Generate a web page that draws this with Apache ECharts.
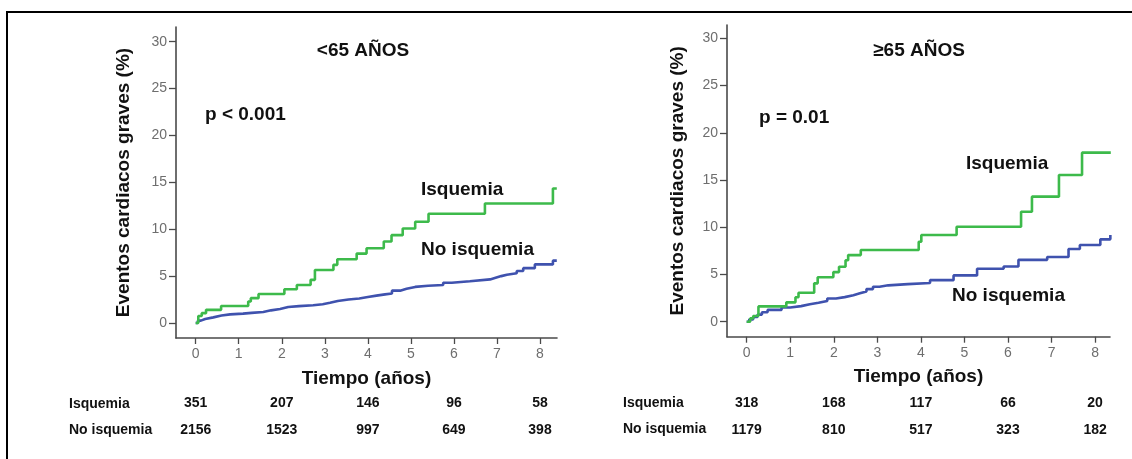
<!DOCTYPE html>
<html>
<head>
<meta charset="utf-8">
<title>Eventos cardiacos graves</title>
<script src="https://cdn.jsdelivr.net/npm/echarts@6/dist/echarts.min.js"></script>
<style>
  html, body { margin: 0; padding: 0; background: #fff; }
  #chart { width: 1132px; height: 459px; }
</style>
</head>
<body>
<div id="chart"></div>
<script>
// Kaplan-Meier cumulative event curves: [años, % eventos]
const youngIschemia = [
  [0, 0], [0.06, 0.75], [0.14, 1.05], [0.24, 1.4], [0.59, 1.82], [1.22, 2.3],
  [1.28, 2.65], [1.46, 3.1], [2.06, 3.6], [2.35, 4.06], [2.67, 4.6], [2.77, 5.66],
  [3.2, 6.2], [3.29, 6.8], [3.74, 7.4], [3.97, 7.98], [4.37, 8.7], [4.55, 9.37],
  [4.81, 10.08], [5.1, 10.8], [5.41, 11.65], [6.72, 12.75], [8.3, 14.35], [8.39, 14.35]
];
const youngNoIschemia = [
  [0, 0], [0.05, 0.25], [0.12, 0.42], [0.22, 0.6], [0.41, 0.8], [0.6, 0.92],
  [0.8, 1.0], [1.1, 1.08], [1.3, 1.18], [1.57, 1.35], [1.75, 1.5], [1.96, 1.7],
  [2.15, 1.8], [2.4, 1.9], [2.73, 2.0], [2.95, 2.15], [3.12, 2.35], [3.3, 2.5],
  [3.55, 2.62], [3.8, 2.78], [4.0, 2.92], [4.2, 3.05], [4.4, 3.15], [4.56, 3.45],
  [4.75, 3.65], [4.9, 3.85], [5.1, 3.98], [5.4, 4.05], [5.75, 4.3], [5.95, 4.45],
  [6.37, 4.65], [6.84, 4.8], [6.95, 5.0], [7.1, 5.15], [7.23, 5.3], [7.46, 5.55],
  [7.61, 5.85], [7.88, 6.25], [8.3, 6.65], [8.39, 6.65]
];
const oldIschemia = [
  [0, 0], [0.08, 0.35], [0.15, 0.6], [0.27, 1.62], [0.91, 2.05], [1.12, 2.58],
  [1.19, 3.07], [1.55, 4.06], [1.63, 4.7], [1.99, 5.25], [2.12, 5.82], [2.27, 6.5],
  [2.33, 7.05], [2.62, 7.59], [3.95, 8.47], [4.01, 9.18], [4.82, 10.06], [6.3, 11.65],
  [6.55, 13.24], [7.17, 15.53], [7.7, 17.9], [8.36, 17.9]
];
const oldNoIschemia = [
  [0, 0], [0.06, 0.25], [0.15, 0.5], [0.25, 0.75], [0.35, 1.0], [0.48, 1.25],
  [0.8, 1.5], [1.0, 1.65], [1.25, 1.85], [1.45, 2.0], [1.65, 2.2], [1.85, 2.45],
  [2.05, 2.6], [2.25, 2.8], [2.45, 3.0], [2.6, 3.2], [2.75, 3.45], [2.9, 3.7],
  [3.05, 3.85], [3.25, 3.98], [3.7, 4.1], [4.21, 4.4], [4.75, 4.9], [5.29, 5.6],
  [5.9, 5.85], [6.24, 6.55], [6.9, 6.85], [7.39, 7.7], [7.65, 8.12], [8.12, 8.72],
  [8.35, 9.18], [8.36, 9.18]
];

// Pacientes en riesgo at 0, 2, 4, 6 and 8 años
const riskYears = [0, 2, 4, 6, 8];
const youngRiskIschemia = [351, 207, 146, 96, 58];
const youngRiskNoIschemia = [2156, 1523, 997, 649, 398];
const oldRiskIschemia = [318, 168, 117, 66, 20];
const oldRiskNoIschemia = [1179, 810, 517, 323, 182];

const yTicks = [0, 5, 10, 15, 20, 25, 30];
const xTicks = [0, 1, 2, 3, 4, 5, 6, 7, 8];

const FONT = '"Liberation Sans", Arial, Helvetica, sans-serif';
const GREEN = '#3dba4b';
const BLUE = '#3f52ae';
const AXIS = '#4a4a4a';
const TICK_TEXT = '#6e6e6e';

const chart = echarts.init(document.getElementById('chart'), null, { renderer: 'canvas' });

function mainX(grid, min, max) {
  return {
    type: 'value', gridIndex: grid, min: min, max: max, position: 'bottom',
    name: 'Tiempo (años)', nameLocation: 'middle', nameGap: 31,
    nameTextStyle: { fontFamily: FONT, fontSize: 19, fontWeight: 'bold', color: '#111' },
    axisLine: { onZero: false, lineStyle: { color: AXIS, width: 1.6 } },
    axisTick: { show: true, length: 6, customValues: xTicks, lineStyle: { color: AXIS, width: 1.3 } },
    axisLabel: { customValues: xTicks, margin: 9, fontFamily: FONT, fontSize: 14, color: TICK_TEXT },
    splitLine: { show: false }
  };
}

function riskX(grid, min, max, offset, counts) {
  return {
    type: 'value', gridIndex: grid, min: min, max: max, position: 'bottom', offset: offset,
    axisLine: { show: false, onZero: false },
    axisTick: { show: false },
    splitLine: { show: false },
    axisLabel: {
      customValues: riskYears, margin: 0, verticalAlign: 'middle',
      fontFamily: FONT, fontSize: 14, fontWeight: 'bold', color: '#111',
      formatter: v => String(counts[riskYears.indexOf(v)])
    }
  };
}

function mainY(grid, min, max, gap) {
  return {
    type: 'value', gridIndex: grid, min: min, max: max,
    name: 'Eventos cardiacos graves (%)', nameLocation: 'middle', nameGap: gap,
    nameTextStyle: { fontFamily: FONT, fontSize: 19, fontWeight: 'bold', color: '#111' },
    axisLine: { show: true, onZero: false, lineStyle: { color: AXIS, width: 1.6 } },
    axisTick: { show: true, length: 7, customValues: yTicks, lineStyle: { color: AXIS, width: 1.3 } },
    axisLabel: { customValues: yTicks, margin: 9, fontFamily: FONT, fontSize: 14, color: TICK_TEXT },
    splitLine: { show: false }
  };
}

function curve(data, color, xIdx, yIdx) {
  return {
    type: 'line', data: data, step: 'end', xAxisIndex: xIdx, yAxisIndex: yIdx,
    showSymbol: false, silent: true, animation: false,
    lineStyle: { color: color, width: 2.6 }
  };
}

function label(text, x, y, align, size) {
  return {
    type: 'text', x: x, y: y, silent: true,
    style: {
      text: text, fill: '#111', font: 'bold ' + size + 'px ' + FONT,
      textAlign: align, textVerticalAlign: 'middle'
    }
  };
}

const option = {
  backgroundColor: '#fff',
  animation: false,
  grid: [
    { left: 176, top: 27, width: 381, height: 311 },
    { left: 727, top: 25, width: 383, height: 311.7 }
  ],
  xAxis: [
    mainX(0, -0.458, 8.395),
    riskX(0, -0.458, 8.395, 65.5, youngRiskIschemia),
    riskX(0, -0.458, 8.395, 92, youngRiskNoIschemia),
    mainX(1, -0.452, 8.342),
    riskX(1, -0.452, 8.342, 66.5, oldRiskIschemia),
    riskX(1, -0.452, 8.342, 93, oldRiskNoIschemia)
  ],
  yAxis: [
    mainY(0, -1.6, 31.57, 43),
    mainY(1, -1.59, 31.42, 40)
  ],
  series: [
    curve(youngNoIschemia, BLUE, 0, 0),
    curve(youngIschemia, GREEN, 0, 0),
    curve(oldNoIschemia, BLUE, 3, 1),
    curve(oldIschemia, GREEN, 3, 1)
  ],
  graphic: [
    // frame along the top and left edges
    { type: 'line', silent: true, shape: { x1: 7, y1: 12, x2: 1132, y2: 12 }, style: { stroke: '#000', lineWidth: 2 } },
    { type: 'line', silent: true, shape: { x1: 7, y1: 11, x2: 7, y2: 459 }, style: { stroke: '#000', lineWidth: 2 } },

    label('<65 AÑOS', 363, 51, 'center', 19),
    label('p < 0.001', 205, 115, 'left', 19),
    label('Isquemia', 421, 190, 'left', 19),
    label('No isquemia', 421, 250, 'left', 19),

    label('≥65 AÑOS', 919, 51, 'center', 19),
    label('p = 0.01', 759, 118, 'left', 19),
    label('Isquemia', 966, 164, 'left', 19),
    label('No isquemia', 952, 296, 'left', 19),

    label('Isquemia', 69, 404, 'left', 14),
    label('No isquemia', 69, 430.5, 'left', 14),
    label('Isquemia', 623, 403, 'left', 14),
    label('No isquemia', 623, 429.5, 'left', 14)
  ]
};

chart.setOption(option);
</script>
</body>
</html>
